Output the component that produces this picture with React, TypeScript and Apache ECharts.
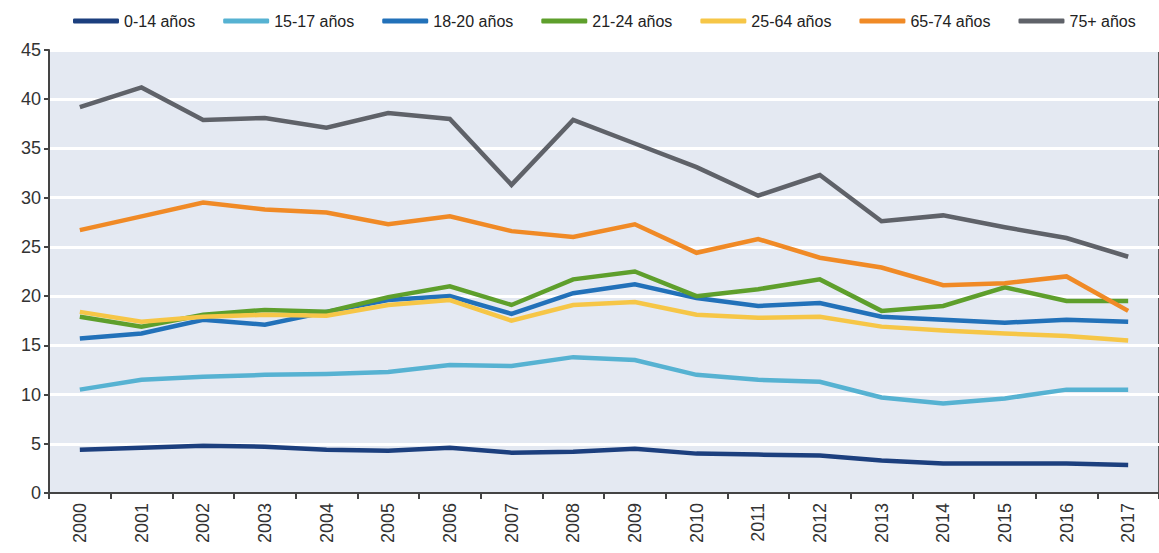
import React, { useEffect, useRef } from "react";
import * as echarts from "echarts";

const years = ["2000","2001","2002","2003","2004","2005","2006","2007","2008","2009","2010","2011","2012","2013","2014","2015","2016","2017"];
const s0_14 = [4.4,4.6,4.8,4.7,4.4,4.3,4.6,4.1,4.2,4.5,4.0,3.9,3.8,3.3,3.0,3.0,3.0,2.85];
const s15_17 = [10.5,11.5,11.8,12.0,12.1,12.3,13.0,12.9,13.8,13.5,12.0,11.5,11.3,9.7,9.1,9.6,10.5,10.5];
const s18_20 = [15.7,16.2,17.6,17.1,18.4,19.6,20.0,18.2,20.3,21.2,19.8,19.0,19.3,17.9,17.6,17.3,17.6,17.4];
const s21_24 = [17.9,16.9,18.1,18.6,18.4,19.9,21.0,19.1,21.7,22.5,20.0,20.7,21.7,18.5,19.0,20.9,19.5,19.5];
const s25_64 = [18.4,17.4,17.9,18.1,18.0,19.1,19.6,17.5,19.1,19.4,18.1,17.8,17.9,16.9,16.5,16.2,15.95,15.5];
const s65_74 = [26.7,28.1,29.5,28.8,28.5,27.3,28.1,26.6,26.0,27.3,24.4,25.8,23.9,22.9,21.1,21.3,22.0,18.5];
const s75 = [39.2,41.2,37.9,38.1,37.1,38.6,38.0,31.3,37.9,35.5,33.1,30.2,32.3,27.6,28.2,27.0,25.9,24.0];

const names = ["0-14 años","15-17 años","18-20 años","21-24 años","25-64 años","65-74 años","75+ años"];
const seriesData = [s0_14, s15_17, s18_20, s21_24, s25_64, s65_74, s75];
const colors = ["#1C3F7E","#56B2D2","#2271B9","#5E9F2C","#F6C647","#F08A26","#5F6269"];
const yTicks = [0, 5, 10, 15, 20, 25, 30, 35, 40, 45];

const FONT = "'Liberation Sans Narrow', 'Liberation Sans', Arial, sans-serif";

export default function App() {
  const ref = useRef<HTMLDivElement>(null);
  useEffect(() => {
    document.body.style.margin = "0";
    const chart = echarts.init(ref.current!, null, { renderer: "svg" });
    chart.setOption({
      animation: false,
      backgroundColor: "#ffffff",
      color: colors,
      legend: {
        top: 8,
        left: 68,
        itemWidth: 46,
        itemHeight: 5,
        itemGap: 28,
        icon: "roundRect",
        textStyle: { fontFamily: FONT, fontSize: 16, color: "#222" },
        data: names,
      },
      grid: {
        left: 49,
        right: -4,
        top: 50,
        bottom: 60,
        show: true,
        backgroundColor: "#E4E9F2",
        borderColor: "#5a5a5a",
        borderWidth: 2,
      },
      xAxis: {
        type: "category",
        data: years,
        boundaryGap: true,
        axisLine: { lineStyle: { color: "#444", width: 2 } },
        axisTick: { show: true, length: 6, lineStyle: { color: "#444", width: 2 } },
        axisLabel: {
          rotate: 90,
          margin: 10,
          fontFamily: FONT,
          fontSize: 18,
          color: "#333",
        },
        splitLine: { show: false },
      },
      yAxis: {
        type: "value",
        min: 0,
        max: 45,
        interval: 5,
        axisLine: { show: true, lineStyle: { color: "#444", width: 2 } },
        axisTick: { show: true, length: 5, lineStyle: { color: "#444", width: 2 } },
        axisLabel: {
          fontFamily: FONT,
          fontSize: 18,
          color: "#333",
          margin: 8,
          formatter: (v: number) => (yTicks.includes(v) ? String(v) : ""),
        },
        splitLine: { show: true, lineStyle: { color: "#ffffff", width: 3 } },
      },
      series: names.map((n, i) => ({
        name: n,
        type: "line",
        data: seriesData[i],
        symbol: "none",
        lineStyle: { width: 4.5, color: colors[i], join: "miter" },
        itemStyle: { color: colors[i] },
      })),
    });
    return () => chart.dispose();
  }, []);
  return <div ref={ref} style={{ width: 1159, height: 553 }} />;
}
